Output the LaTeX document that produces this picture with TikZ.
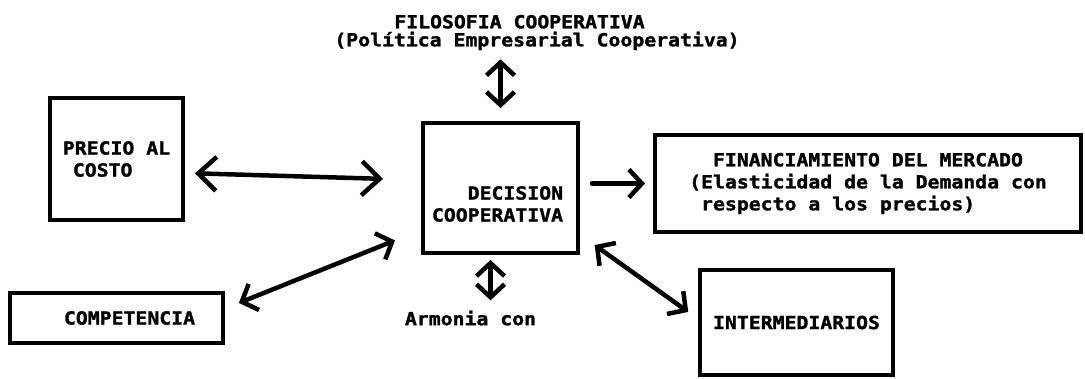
\documentclass[tikz,border=0pt]{standalone}
\usepackage{fontspec}
\usepackage{tikz}
\usetikzlibrary{arrows.meta}
\newfontfamily\printfont[FakeStretch=1.1, FakeBold=1.5]{DejaVu Sans Mono}

\begin{document}
\begin{tikzpicture}[x=1pt, y=-1pt, line width=4.5pt, line cap=round,
    >={Straight Barb[length=13pt,width=28pt]},
    every node/.style={font=\printfont\bfseries\fontsize{18}{22}\selectfont, inner sep=0pt},
    block/.style={draw, line width=4pt}]
  \useasboundingbox[fill=white] (0,0) rectangle (1085,378);

  \node[align=left, font=\printfont\bfseries\fontsize{18}{18}\selectfont]
                 (filosofia)      at (537,32.5) {\hspace*{60pt}FILOSOFIA COOPERATIVA\\(Política Empresarial Cooperativa)};
  \node[block, minimum width=133pt, minimum height=122pt, align=left]
                 (precio)         at (116.5,159) {PRECIO AL\\\hspace*{10pt}COSTO};
  \node[block, minimum width=155pt, minimum height=130pt]
                 (decision)       at (500.5,188) {};
  \node[align=right] (decisionText) at (497.5,204) {DECISION\\COOPERATIVA};
  \node[block, minimum width=426pt, minimum height=97pt, align=left]
                 (financiamiento) at (868,183.5) {\hphantom{(E}FINANCIAMIENTO DEL MERCADO\\(Elasticidad de la Demanda con\\\hphantom{(}respecto a los precios)};
  \node[block, minimum width=213pt, minimum height=50pt]
                 (competencia)    at (116.5,318) {\hspace*{26pt}COMPETENCIA};
  \node          (armonia)        at (470.5,318) {Armonia con};
  \node[block, minimum width=193pt, minimum height=105pt]
                 (intermediarios) at (796.5,322.5) {INTERMEDIARIOS};

  \draw[<->, shorten <=7pt, shorten >=13pt] (decision.north |- filosofia.south) -- (decision.north);
  \draw[<->, >={Straight Barb[length=18pt,width=34pt]}, shorten <=10pt, shorten >=38pt]
       ([yshift=-14pt]precio.east) -- ([yshift=8pt]decision.west);
  \draw[->, shorten <=12pt, shorten >=8pt] (decision.east |- financiamiento.west) -- (financiamiento.west);
  \draw[<->, shorten <=15pt, shorten >=28pt] ([yshift=9.5pt]competencia.east) -- ([yshift=-42pt]decision.west);
  \draw[<->, shorten <=5pt, shorten >=8pt] ([xshift=-10pt]decision.south) -- ([xshift=-10pt]decision.south |- armonia.north);
  \draw[<->, shorten <=18pt, shorten >=12pt] ([yshift=-46.6pt]decision.east) -- ([yshift=3.6pt]intermediarios.west);
\end{tikzpicture}
\end{document}
